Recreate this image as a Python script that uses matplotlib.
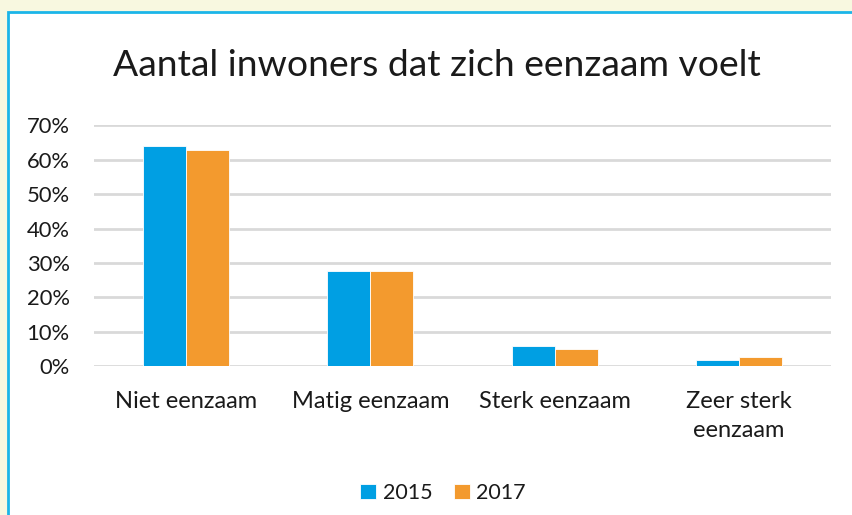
import matplotlib
matplotlib.use("Agg")
import matplotlib.pyplot as plt
from matplotlib.patches import Rectangle
import numpy as np

categories = ["Niet eenzaam", "Matig eenzaam", "Sterk eenzaam", "Zeer sterk\neenzaam"]
series_names = ["2015", "2017"]
values_2015 = [0.639, 0.277, 0.059, 0.017]
values_2017 = [0.630, 0.277, 0.049, 0.026]
yticks = [0, 0.1, 0.2, 0.3, 0.4, 0.5, 0.6, 0.7]
ytick_labels = ["0%", "10%", "20%", "30%", "40%", "50%", "60%", "70%"]
title = "Aantal inwoners dat zich eenzaam voelt"

W, H = 853, 515
fig = plt.figure(figsize=(W / 100, H / 100), dpi=100)
fig.patch.set_facecolor("#F8F8E0")
plt.rcParams["font.family"] = ["Lato", "DejaVu Sans"]

# white chart box with blue border
fig.patches.append(Rectangle((8 / W, -0.01), 1.0, (H - 12) / H + 0.01, transform=fig.transFigure,
                             facecolor="white", edgecolor="#1BB5E8", linewidth=2, zorder=-10))

ax = fig.add_axes([94 / W, 1 - 366 / H, (831 - 94) / W, (366 - 125.5) / H])
ax.set_zorder(2)
ax.set_facecolor("none")
x = np.arange(len(categories))
bw = 0.233
c1, c2 = "#009FE3", "#F39A2E"
ax.bar(x - bw / 2, values_2015, bw, color=c1, label=series_names[0], zorder=3,
       edgecolor="white", linewidth=0.6)
ax.bar(x + bw / 2, values_2017, bw, color=c2, label=series_names[1], zorder=3,
       edgecolor="white", linewidth=0.6)
ax.set_xlim(-0.5, len(categories) - 0.5)
ax.set_ylim(0, 0.7)
ax.set_yticks(yticks)
ax.set_yticklabels(ytick_labels, fontsize=15.8, color="#1a1a1a")
ax.set_xticks(x)
ax.set_xticklabels(categories, fontsize=17, color="#1a1a1a", linespacing=1.45, va="top")
ax.tick_params(length=0, axis="y", pad=17.5)
ax.tick_params(length=0, axis="x", pad=18)
for lab in ax.get_yticklabels():
    lab.set_horizontalalignment("right")
ax.grid(axis="y", color="#D9D9D9", linewidth=2, zorder=0)
for s in ax.spines.values():
    s.set_visible(False)

fig.text(437 / W, 1 - 66 / H, title, ha="center", va="center", fontsize=26.8, color="#1a1a1a")

leg = fig.legend(loc="center", bbox_to_anchor=(443 / W, 1 - 493 / H), ncol=2, frameon=False,
                 fontsize=15.5, handlelength=0.75, handleheight=0.75, handletextpad=0.3,
                 columnspacing=1.0)
for t in leg.get_texts():
    t.set_color("#1a1a1a")

fig.savefig("out.png", dpi=100, facecolor=fig.get_facecolor())
